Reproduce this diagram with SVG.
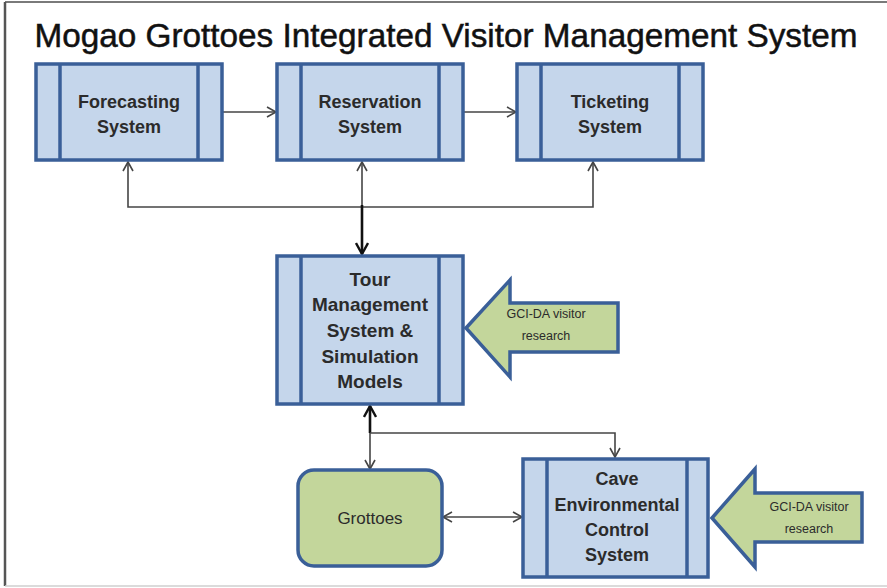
<svg xmlns="http://www.w3.org/2000/svg" width="887" height="588" viewBox="0 0 887 588">
  <style>
    .proc { fill: #c5d6eb; stroke: #3a5f98; stroke-width: 3.5; }
    .bar { fill: none; stroke: #3a5f98; stroke-width: 3.5; }
    .green { fill: #c3d69b; stroke: #3a5f98; stroke-width: 3.5; }
    .lbl { font-family: "Liberation Sans", Arial, sans-serif; font-weight: bold; font-size: 18px; fill: #2b2b2b; text-anchor: middle; }
    .big { font-size: 19px; }
    .plain { font-family: "Liberation Sans", Arial, sans-serif; font-size: 17px; fill: #2b2b2b; text-anchor: middle; }
    .small { font-family: "Liberation Sans", Arial, sans-serif; font-size: 12.5px; fill: #2b2b2b; text-anchor: middle; }
    .title { font-family: "Liberation Sans", Arial, sans-serif; font-size: 34px; fill: #111; stroke: #111; stroke-width: 0.5; text-anchor: middle; }
    .conn { fill: none; stroke: #454545; stroke-width: 1.6; }
    .thick { fill: none; stroke: #111; stroke-width: 2.6; }
  </style>
  <defs>
    <marker id="open" markerWidth="12" markerHeight="12" refX="10" refY="6" orient="auto-start-reverse" markerUnits="userSpaceOnUse">
      <path d="M1,1 L10,6 L1,11" fill="none" stroke="#454545" stroke-width="1.6"/>
    </marker>
    <marker id="openDark" markerWidth="14" markerHeight="14" refX="12" refY="7" orient="auto-start-reverse" markerUnits="userSpaceOnUse">
      <path d="M1,1 L12,7 L1,13" fill="none" stroke="#111" stroke-width="2.4"/>
    </marker>
  </defs>

  <rect x="0" y="0" width="887" height="588" fill="#ffffff"/>
  <!-- frame -->
  <line x1="5" y1="2" x2="887" y2="2" stroke="#7a7a7a" stroke-width="2"/>
  <line x1="5" y1="2" x2="5" y2="586" stroke="#555" stroke-width="2.5"/>
  <line x1="5" y1="586" x2="887" y2="586" stroke="#cfcfcf" stroke-width="1.5"/>

  <text class="title" x="446" y="47" textLength="823" lengthAdjust="spacingAndGlyphs">Mogao Grottoes Integrated Visitor Management System</text>

  <!-- connectors -->
  <g id="connectors">
    <line class="conn" x1="223" y1="112" x2="276" y2="112" marker-end="url(#open)"/>
    <line class="conn" x1="463" y1="112" x2="516" y2="112" marker-end="url(#open)"/>
    <polyline class="conn" points="128,162 128,207 593,207 593,162" marker-start="url(#open)" marker-end="url(#open)"/>
    <line class="conn" x1="362" y1="207" x2="362" y2="162" marker-end="url(#open)"/>
    <line class="thick" x1="362" y1="205" x2="362" y2="254" marker-end="url(#openDark)"/>
    <line class="thick" x1="370" y1="433" x2="370" y2="406" marker-end="url(#openDark)"/>
    <line class="conn" x1="370" y1="433" x2="370" y2="469" marker-end="url(#open)"/>
    <polyline class="conn" points="370,433 615,433 615,457" marker-end="url(#open)"/>
    <line class="conn" x1="443" y1="517" x2="522" y2="517" marker-start="url(#open)" marker-end="url(#open)"/>
  </g>

  <g id="forecasting">
    <rect class="proc" x="36" y="64" width="186" height="96"/>
    <line class="bar" x1="60" y1="64" x2="60" y2="160"/>
    <line class="bar" x1="198" y1="64" x2="198" y2="160"/>
    <text class="lbl" x="129" y="108">Forecasting</text>
    <text class="lbl" x="129" y="133">System</text>
  </g>

  <g id="reservation">
    <rect class="proc" x="277" y="64" width="186" height="96"/>
    <line class="bar" x1="301" y1="64" x2="301" y2="160"/>
    <line class="bar" x1="439" y1="64" x2="439" y2="160"/>
    <text class="lbl" x="370" y="108">Reservation</text>
    <text class="lbl" x="370" y="133">System</text>
  </g>

  <g id="ticketing">
    <rect class="proc" x="517" y="64" width="186" height="96"/>
    <line class="bar" x1="541" y1="64" x2="541" y2="160"/>
    <line class="bar" x1="679" y1="64" x2="679" y2="160"/>
    <text class="lbl" x="610" y="108">Ticketing</text>
    <text class="lbl" x="610" y="133">System</text>
  </g>

  <g id="tour">
    <rect class="proc" x="277" y="256" width="186" height="148"/>
    <line class="bar" x1="301" y1="256" x2="301" y2="404"/>
    <line class="bar" x1="439" y1="256" x2="439" y2="404"/>
    <text class="lbl big" x="370" y="286">Tour</text>
    <text class="lbl big" x="370" y="311">Management</text>
    <text class="lbl big" x="370" y="337">System &amp;</text>
    <text class="lbl big" x="370" y="363">Simulation</text>
    <text class="lbl big" x="370" y="388">Models</text>
  </g>

  <g id="research-tour">
    <polygon class="green" points="466,328 510,280 510,303 618,303 618,352 510,352 510,377"/>
    <text class="small" x="546" y="318">GCI-DA visitor</text>
    <text class="small" x="546" y="340">research</text>
  </g>

  <g id="grottoes">
    <rect class="green" x="298" y="470" width="144" height="96" rx="16"/>
    <text class="plain" x="370" y="524">Grottoes</text>
  </g>

  <g id="cave">
    <rect class="proc" x="523" y="459" width="185" height="118"/>
    <line class="bar" x1="547" y1="459" x2="547" y2="577"/>
    <line class="bar" x1="687" y1="459" x2="687" y2="577"/>
    <text class="lbl" x="617" y="485">Cave</text>
    <text class="lbl" x="617" y="511">Environmental</text>
    <text class="lbl" x="617" y="536">Control</text>
    <text class="lbl" x="617" y="561">System</text>
  </g>

  <g id="research-cave">
    <polygon class="green" points="712,518 755,469 755,493 862,493 862,542 755,542 755,567"/>
    <text class="small" x="809" y="511">GCI-DA visitor</text>
    <text class="small" x="809" y="533">research</text>
  </g>
</svg>
